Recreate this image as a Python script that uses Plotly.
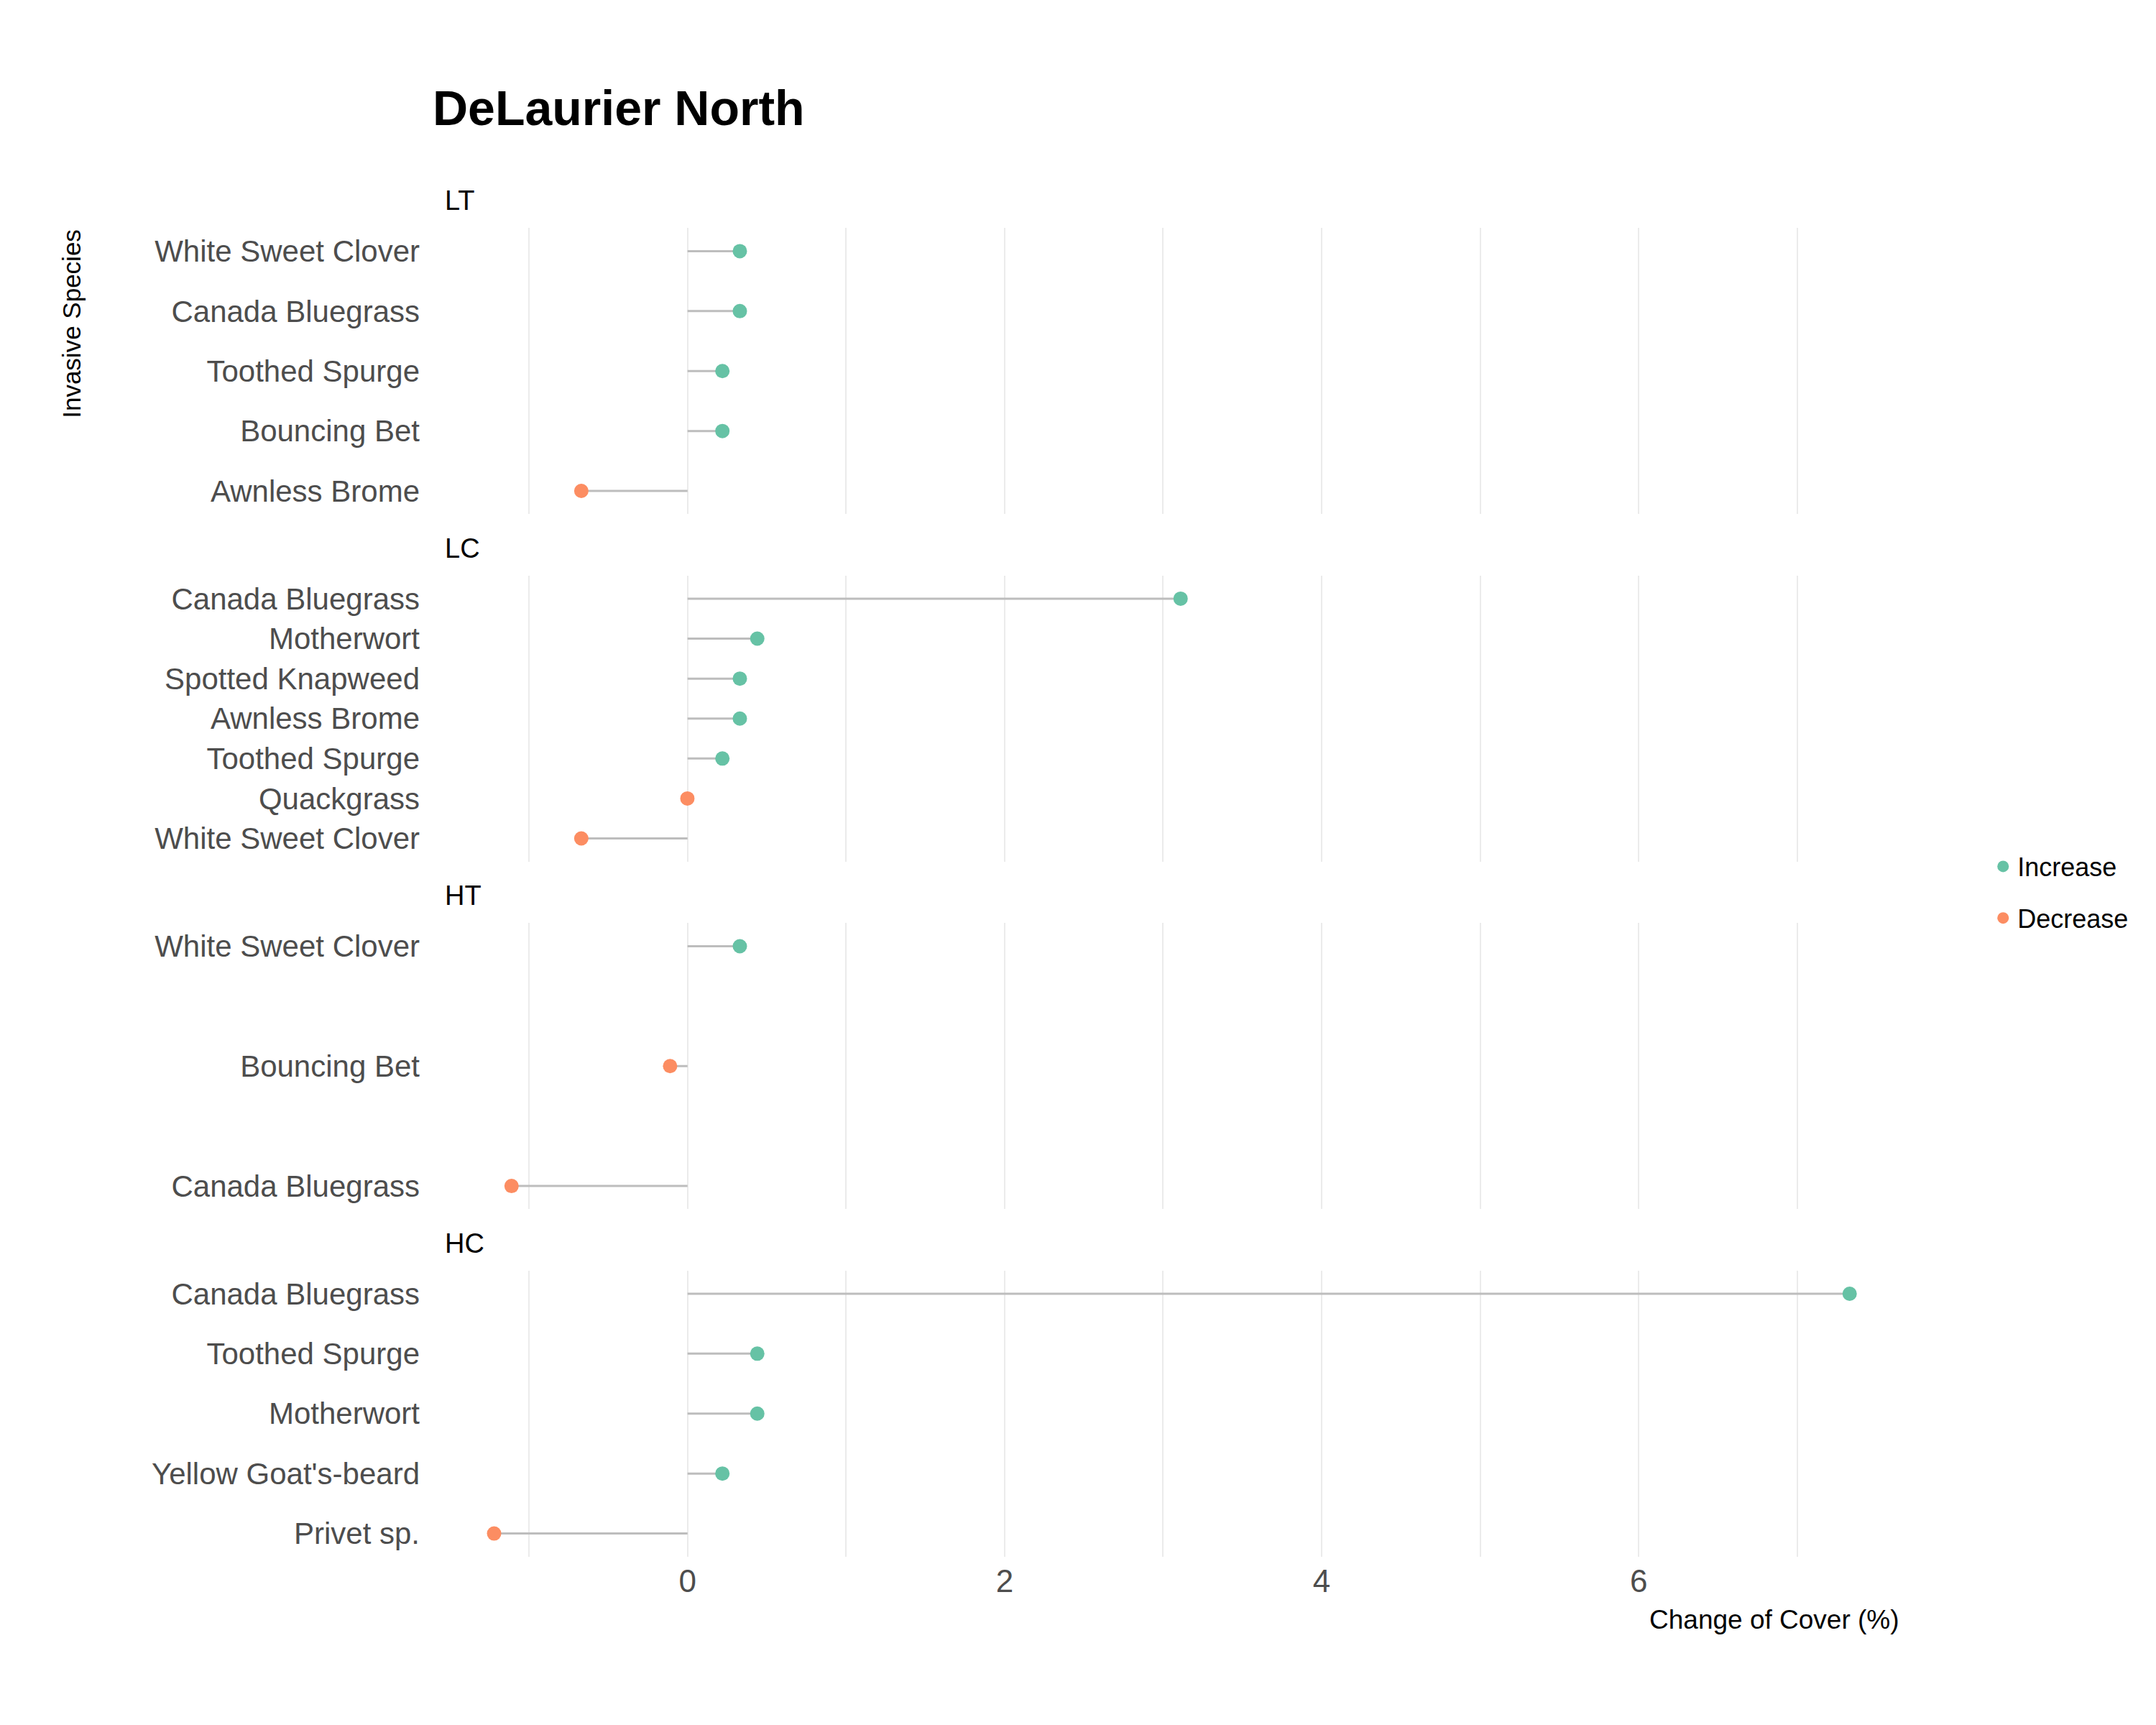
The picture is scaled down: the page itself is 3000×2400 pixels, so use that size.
import plotly.graph_objects as go
from plotly.subplots import make_subplots

panels = ["LT", "LC", "HT", "HC"]
species = {
    "LT": ["White Sweet Clover", "Canada Bluegrass", "Toothed Spurge", "Bouncing Bet", "Awnless Brome"],
    "LC": ["Canada Bluegrass", "Motherwort", "Spotted Knapweed", "Awnless Brome", "Toothed Spurge", "Quackgrass", "White Sweet Clover"],
    "HT": ["White Sweet Clover", "Bouncing Bet", "Canada Bluegrass"],
    "HC": ["Canada Bluegrass", "Toothed Spurge", "Motherwort", "Yellow Goat's-beard", "Privet sp."],
}
changes = {
    "LT": [0.33, 0.33, 0.22, 0.22, -0.67],
    "LC": [3.11, 0.44, 0.33, 0.33, 0.22, -0.001, -0.67],
    "HT": [0.33, -0.11, -1.11],
    "HC": [7.33, 0.44, 0.44, 0.22, -1.22],
}
GREEN, ORANGE = "#66C2A5", "#FC8D62"
FONT = "Liberation Sans, Arial"

fig = make_subplots(rows=4, cols=1, shared_xaxes=True, vertical_spacing=0.046)
for i, p in enumerate(panels, start=1):
    sp, vals = species[p], changes[p]
    lx, ly = [], []
    for s, v in zip(sp, vals):
        lx += [0, v, None]; ly += [s, s, None]
    fig.add_trace(go.Scatter(x=lx, y=ly, mode="lines", line=dict(color="#BDBDBD", width=3),
                             showlegend=False, hoverinfo="skip"), row=i, col=1)
    for name, col, cond in [("Increase", GREEN, lambda v: v > 0), ("Decrease", ORANGE, lambda v: v <= 0)]:
        xs = [v for v in vals if cond(v)]
        ys = [s for s, v in zip(sp, vals) if cond(v)]
        fig.add_trace(go.Scatter(x=xs, y=ys, mode="markers", name=name, legendgroup=name,
                                 marker=dict(color=col, size=20), showlegend=(i == 1)), row=i, col=1)
    fig.update_yaxes(type="category", categoryorder="array", categoryarray=sp[::-1],
                     showgrid=False, zeroline=False, ticks="", tickfont=dict(size=42, color="#4D4D4D",
                     family=FONT), ticklabelstandoff=22, row=i, col=1)
    dom = fig.layout[f"yaxis{'' if i == 1 else i}"].domain
    fig.add_annotation(text=p, xref="paper", yref="paper", x=0.005, y=dom[1] + 0.008,
                       xanchor="left", yanchor="bottom", showarrow=False,
                       font=dict(size=38, color="black", family=FONT))

fig.update_xaxes(range=[-1.585, 7.44], tickvals=[0, 2, 4, 6], showgrid=True, gridcolor="#EBEBEB",
                 gridwidth=2, zeroline=False, ticks="", showline=False, ticklabelstandoff=4,
                 minor=dict(tick0=-1, dtick=1, showgrid=True, gridcolor="#EBEBEB", gridwidth=2),
                 tickfont=dict(size=44, color="#4D4D4D", family=FONT))

fig.add_annotation(text="Invasive Species", xref="paper", yref="paper", x=-0.255, y=1.0,
                   xanchor="center", yanchor="top", textangle=-90, showarrow=False,
                   font=dict(size=35, color="black", family=FONT))
fig.add_annotation(text="Change of Cover (%)", xref="paper", yref="paper", x=0.935, y=-0.035,
                   xanchor="center", yanchor="top", showarrow=False,
                   font=dict(size=37, color="black", family=FONT))

fig.update_layout(
    width=3000, height=2400, plot_bgcolor="white", paper_bgcolor="white",
    margin=dict(l=599, r=410, t=309, b=242),
    title=dict(text="<b>DeLaurier North</b>", x=0.198, xanchor="left", y=1 - 142 / 2400,
               yanchor="middle", font=dict(size=68, color="black", family=FONT)),
    legend=dict(x=1.085, y=0.5, xanchor="left", yanchor="middle", tracegroupgap=22,
                font=dict(size=36, color="black", family=FONT), itemsizing="trace"),
)
fig.write_html("out.html")
